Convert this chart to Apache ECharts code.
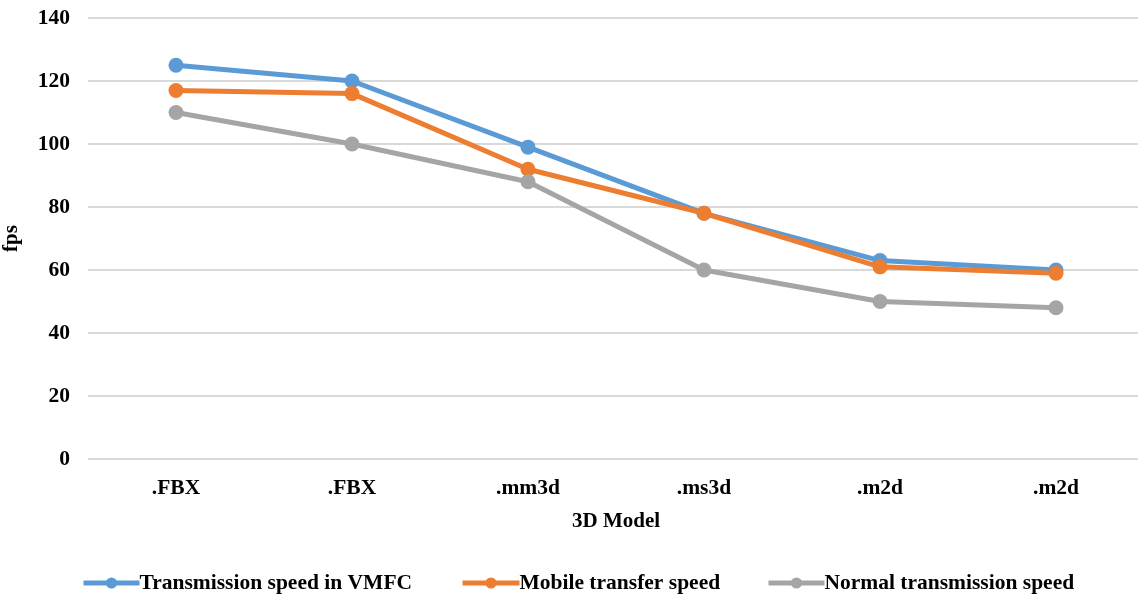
<!DOCTYPE html>
<html>
<head>
<meta charset="utf-8">
<script src="https://cdn.jsdelivr.net/npm/echarts@6/dist/echarts.min.js"></script>
<style>
  html, body { margin: 0; padding: 0; background: #fff; }
  #chart { width: 1138px; height: 595px; }
</style>
</head>
<body>
<div id="chart"></div>
<script>
// Frame rate per 3D model format
const categories = ['.FBX', '.FBX', '.mm3d', '.ms3d', '.m2d', '.m2d'];
const vmfcSpeed = [125, 120, 99, 78, 63, 60];
const mobileSpeed = [117, 116, 92, 78, 61, 59];
const normalSpeed = [110, 100, 88, 60, 50, 48];
const seriesNames = ['Transmission speed in VMFC', 'Mobile transfer speed', 'Normal transmission speed'];
const colors = ['#5B9BD5', '#ED7D31', '#A5A5A5'];

const font = '"Liberation Serif", "Times New Roman", serif';

function lineSeries(name, data, color) {
  return {
    name: name,
    type: 'line',
    data: data,
    symbol: 'circle',
    symbolSize: 15,
    lineStyle: { width: 5, color: color },
    itemStyle: { color: color },
    emphasis: { disabled: true }
  };
}

// One legend block per series so each entry sits at its own offset
function legendItem(name, left, iconWidth) {
  return {
    data: [name],
    left: left,
    top: 572,
    padding: 0,
    itemWidth: iconWidth,
    itemHeight: 14,
    lineStyle: { width: 5 },
    textStyle: { fontFamily: font, fontWeight: 'bold', fontSize: 21.5, color: '#000', padding: [0, 0, 0, -5] }
  };
}

const chart = echarts.init(document.getElementById('chart'));
chart.setOption({
  animation: false,
  textStyle: { fontFamily: font },
  grid: { left: 88, top: 18, right: -6, bottom: 136, outerBoundsMode: 'none' },
  xAxis: {
    type: 'category',
    data: categories,
    boundaryGap: true,
    name: '3D Model',
    nameLocation: 'middle',
    nameGap: 52,
    nameTextStyle: { fontFamily: font, fontWeight: 'bold', fontSize: 21, color: '#000' },
    axisLine: { show: false },
    axisTick: { show: false },
    axisLabel: { fontFamily: font, fontWeight: 'bold', fontSize: 21.5, color: '#000', margin: 18 }
  },
  yAxis: {
    type: 'value',
    min: 0,
    max: 140,
    interval: 20,
    name: 'fps',
    nameLocation: 'middle',
    nameGap: 66,
    nameRotate: 90,
    nameTextStyle: { fontFamily: font, fontWeight: 'bold', fontSize: 21, color: '#000' },
    axisLine: { show: false },
    axisTick: { show: false },
    axisLabel: { fontFamily: font, fontWeight: 'bold', fontSize: 21.5, color: '#000', margin: 18 },
    splitLine: { lineStyle: { color: '#D9D9D9', width: 2 } }
  },
  legend: [
    legendItem(seriesNames[0], 81, 56),
    legendItem(seriesNames[1], 460, 57),
    legendItem(seriesNames[2], 766, 56)
  ],
  series: [
    lineSeries(seriesNames[0], vmfcSpeed, colors[0]),
    lineSeries(seriesNames[1], mobileSpeed, colors[1]),
    lineSeries(seriesNames[2], normalSpeed, colors[2])
  ]
});
</script>
</body>
</html>
